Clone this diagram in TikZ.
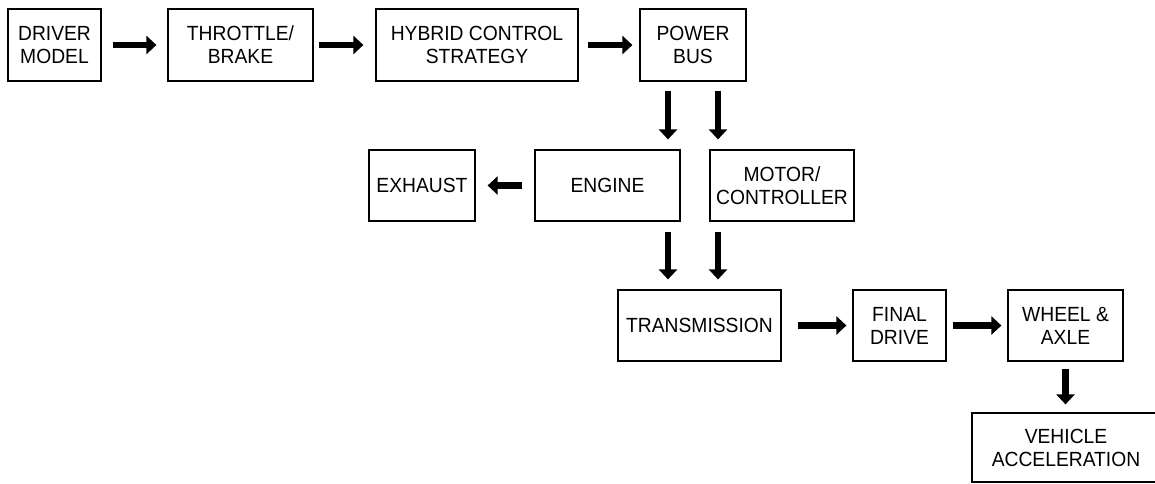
\documentclass[tikz,border=0pt]{standalone}
\usepackage{fontspec}
\setmainfont{Liberation Sans}[FakeStretch=0.94]
\usepackage{tikz}
\usetikzlibrary{arrows.meta,positioning}

\begin{document}
\begin{tikzpicture}[
  x=1pt, y=-1pt,
  font=\fontsize{20.5}{23}\selectfont,
  unit/.style={draw, line width=1.2pt, align=center, inner sep=0pt, minimum height=72pt},
  flow/.style={-{Triangle[width=18pt,length=10pt]}, line width=6.5pt, shorten <=10pt, shorten >=10pt}
]
  \useasboundingbox (0,0) rectangle (1155,483);
  \clip (0,0) rectangle (1155,483);

  % Top row: driver to power bus
  \node[unit, minimum width=93pt] (drv) at (54.5,45) {DRIVER\\MODEL};
  \node[unit, minimum width=145pt] (thr) at (240.5,45) {THROTTLE/\\BRAKE};
  \node[unit, minimum width=202pt] (hcs) at (477,45) {HYBRID CONTROL\\STRATEGY};
  \node[unit, minimum width=106pt] (pbus) at (693,45) {POWER\\BUS};

  % Middle row: power sources
  \node[unit, minimum width=106pt, minimum height=71pt] (exh) at (422,185.5) {EXHAUST};
  \node[unit, minimum width=145pt, minimum height=71pt] (eng) at (607.5,185.5) {ENGINE};
  \node[unit, minimum width=144pt, minimum height=71pt] (mot) at (782,185.5) {MOTOR/\\CONTROLLER};

  % Bottom row: driveline
  \node[unit, minimum width=163pt, minimum height=71pt] (trans) at (699.5,325.5) {TRANSMISSION};
  \node[unit, minimum width=93pt, minimum height=71pt] (fin) at (899.5,325.5) {FINAL\\DRIVE};
  \node[unit, minimum width=115pt, minimum height=71pt] (whl) at (1065.5,325.5) {WHEEL \&\\AXLE};
  \node[unit, minimum width=188pt, minimum height=69pt] (veh) at (1066,447.5) {VEHICLE\\ACCELERATION};

  % Top row arrows
  \draw[flow, shorten <=11pt, shorten >=11pt] (drv.east) -- (thr.west);
  \draw[flow, shorten <=5pt, shorten >=12pt] (thr.east) -- (hcs.west);
  \draw[flow, shorten <=9pt, shorten >=7pt] (hcs.east) -- (pbus.west);

  % Power bus to engine and motor
  \draw[flow, shorten <=9pt] ([xshift=-25pt]pbus.south) -- ([xshift=-25pt]pbus.south |- eng.north);
  \draw[flow, shorten <=9pt] ([xshift=25pt]pbus.south) -- ([xshift=25pt]pbus.south |- mot.north);
  \draw[flow, shorten <=12pt, shorten >=12pt] (eng.west) -- (exh.east);

  % Engine and motor to transmission
  \draw[flow] ([xshift=-25pt]pbus.south |- eng.south) -- ([xshift=-25pt]pbus.south |- trans.north);
  \draw[flow] ([xshift=25pt]pbus.south |- mot.south) -- ([xshift=25pt]pbus.south |- trans.north);

  % Driveline arrows
  \draw[flow, shorten <=16pt, shorten >=6pt] (trans.east) -- (fin.west);
  \draw[flow, shorten <=6pt, shorten >=6pt] (fin.east) -- (whl.west);
  \draw[flow, shorten <=7pt, shorten >=8pt] (whl.south) -- (whl.south |- veh.north);
\end{tikzpicture}
\end{document}
